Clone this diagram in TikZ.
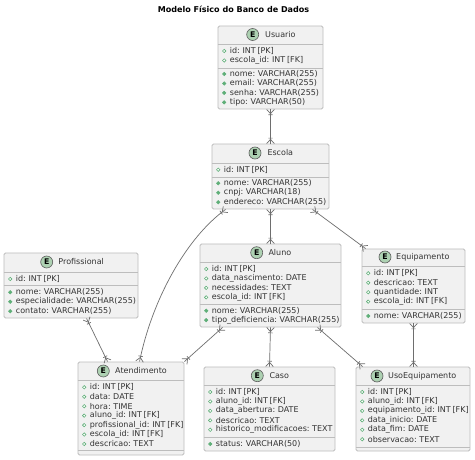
\documentclass[tikz,border=0pt]{standalone}
\usepackage{fontspec}
\setmainfont{DejaVu Sans}
\newfontfamily\rowfont[WordSpace=0.7]{DejaVu Sans}
\usetikzlibrary{arrows.meta,calc}
\pgfdeclarearrow{
  name=CrowBar,
  setup code={\pgfarrowssettipend{0pt}\pgfarrowssetlineend{0pt}\pgfarrowssetbackend{-6pt}\pgfarrowssetvisualbackend{-6pt}},
  drawing code={
    \pgfsetdash{}{0pt}
    \pgfpathmoveto{\pgfpoint{-4.2pt}{0pt}}\pgfpathlineto{\pgfpoint{0pt}{3.8pt}}
    \pgfpathmoveto{\pgfpoint{-4.2pt}{0pt}}\pgfpathlineto{\pgfpoint{0pt}{-3.8pt}}
    \pgfpathmoveto{\pgfpoint{-5.4pt}{2.2pt}}\pgfpathlineto{\pgfpoint{-5.4pt}{-2.2pt}}
    \pgfusepathqstroke
  }
}
\definecolor{boxfill}{HTML}{F1F1F1}
\definecolor{boxline}{HTML}{BDBDBD}
\definecolor{conn}{HTML}{6E6E6E}
\definecolor{ink}{HTML}{333333}
\definecolor{badge}{HTML}{ADD1B2}
\definecolor{dot}{HTML}{5FAF78}
\tikzset{
  entitybox/.style={draw=boxline,fill=boxfill,line width=0.9pt,rounded corners=1.5pt,inner sep=0pt},
  rule/.style={draw=boxline,line width=0.9pt},
  badgeE/.style={circle,draw=ink!80,fill=badge,line width=0.6pt,minimum size=12pt,inner sep=0pt,font=\fontsize{7.8}{9}\selectfont\bfseries,text=black},
  titletext/.style={anchor=west,inner sep=0pt,font=\rowfont\fontsize{8}{9}\selectfont,text=ink},
  rowtext/.style={anchor=west,inner sep=0pt,font=\rowfont\fontsize{8}{9}\selectfont,text=ink},
  hollow/.style={circle,draw=dot,fill=white,line width=0.6pt,minimum size=3.4pt,inner sep=0pt},
  solid/.style={circle,draw=dot,fill=dot,line width=0.6pt,minimum size=3.4pt,inner sep=0pt},
  link/.style={draw=conn,line width=0.7pt,{CrowBar}-{CrowBar}}
}
% name, x1, y1, x2, y2, badge x, text x, title y, title
\newcommand{\entitybox}[9]{
  \node[entitybox,minimum width=#4pt-#2pt,minimum height=#5pt-#3pt] (#1) at ({(#2+#4)/2},{(#3+#5)/2}) {};
  \node[badgeE] (#1badge) at (#6,#8) {E};
  \node[titletext] (#1title) at (#7,#8) {#9};
}
% prefix, style, x1, ystart, list
\newcommand{\rows}[5]{
  \foreach \t [count=\i] in {#5} {
    \pgfmathsetmacro\yy{#4+(\i-1)*9.45}
    \node[#2] (#1dot\i) at (#3+6.2,\yy) {};
    \node[rowtext] (#1row\i) at (#3+11.7,\yy) {\t};
  }
}
\newcommand{\seps}[3]{
  \draw[rule] (#1.west |- 0,#2) -- (#1.east |- 0,#2);
  \draw[rule] (#1.west |- 0,#3) -- (#1.east |- 0,#3);
}
\begin{document}
\begin{tikzpicture}[x=1pt,y=-1pt]
\useasboundingbox (0,0) rectangle (475,460);
\fill[white] (0,0) rectangle (475,460);
\node[inner sep=0pt,font=\fontsize{8.05}{9}\selectfont\bfseries,text=black] (title) at (233.5,9.5) {Modelo Físico do Banco de Dados};

\entitybox{usuario}{218}{26}{323}{109}{252.7}{265}{34.5}{Usuario}
\seps{usuario}{44}{68}
\rows{usuarioa}{hollow}{218}{51}{id: INT [PK],escola\_id: INT [FK]}
\rows{usuariob}{solid}{218}{74}{nome: VARCHAR(255),email: VARCHAR(255),senha: VARCHAR(255),tipo: VARCHAR(50)}

\entitybox{escola}{212}{144}{329}{209}{255}{267.3}{153}{Escola}
\seps{escola}{163}{177}
\rows{escolaa}{hollow}{212}{169.7}{id: INT [PK]}
\rows{escolab}{solid}{212}{183.3}{nome: VARCHAR(255),cnpj: VARCHAR(18),endereco: VARCHAR(255)}

\entitybox{profissional}{4}{253}{138}{318}{46.7}{58.3}{262}{Profissional}
\seps{profissional}{272}{285}
\rows{profissionala}{hollow}{4}{279}{id: INT [PK]}
\rows{profissionalb}{solid}{4}{292.3}{nome: VARCHAR(255),especialidade: VARCHAR(255),contato: VARCHAR(255)}

\entitybox{aluno}{200}{244}{341}{327}{256.7}{268.3}{252.7}{Aluno}
\seps{aluno}{262}{304}
\rows{alunoa}{hollow}{200}{269}{id: INT [PK],data\_nascimento: DATE,necessidades: TEXT,escola\_id: INT [FK]}
\rows{alunob}{solid}{200}{310.7}{nome: VARCHAR(255),tipo\_deficiencia: VARCHAR(255)}

\entitybox{equipamento}{362}{249}{465}{323}{385}{396}{257}{Equipamento}
\seps{equipamento}{266}{309}
\rows{equipamentoa}{hollow}{362}{273.3}{id: INT [PK],descricao: TEXT,quantidade: INT,escola\_id: INT [FK]}
\rows{equipamentob}{solid}{362}{316}{nome: VARCHAR(255)}

\entitybox{atendimento}{78}{362}{184}{455}{103.3}{115}{371}{Atendimento}
\seps{atendimento}{380}{450}
\rows{atendimentoa}{hollow}{78}{387.3}{id: INT [PK],data: DATE,hora: TIME,aluno\_id: INT [FK],profissional\_id: INT [FK],escola\_id: INT [FK],descricao: TEXT}

\entitybox{caso}{204}{367}{335}{451}{257.3}{269.3}{375.7}{Caso}
\seps{caso}{385}{437}
\rows{casoa}{hollow}{204}{392}{id: INT [PK],aluno\_id: INT [FK],data\_abertura: DATE,descricao: TEXT,historico\_modificacoes: TEXT}
\rows{casob}{solid}{204}{444}{status: VARCHAR(50)}

\entitybox{uso}{356}{367}{470}{451}{377}{388}{376}{UsoEquipamento}
\seps{uso}{385}{447}
\rows{usoa}{hollow}{356}{392}{id: INT [PK],aluno\_id: INT [FK],equipamento\_id: INT [FK],data\_inicio: DATE,data\_fim: DATE,observacao: TEXT}

\draw[link] (usuario.south) -- (escola.north);
\draw[link] (escola.south) -- (aluno.north);
\draw[link] ($(escola.south west)+(101,0)$) -- ($(equipamento.north west)+(4,0)$);
\draw[link] ($(escola.south west)+(14,0)$) .. controls (186,238) and (152,300) .. ($(atendimento.north west)+(62,0)$);
\draw[link] ($(profissional.south west)+(83,0)$) -- ($(atendimento.north west)+(30,0)$);
\draw[link] ($(aluno.south west)+(23,0)$) -- (atendimento.north east);
\draw[link] (aluno.south) -- (caso.north);
\draw[link] ($(aluno.south west)+(118,0)$) -- ($(uso.north west)+(7,0)$);
\draw[link] (equipamento.south) -- (uso.north -| equipamento.south);
\end{tikzpicture}
\end{document}
